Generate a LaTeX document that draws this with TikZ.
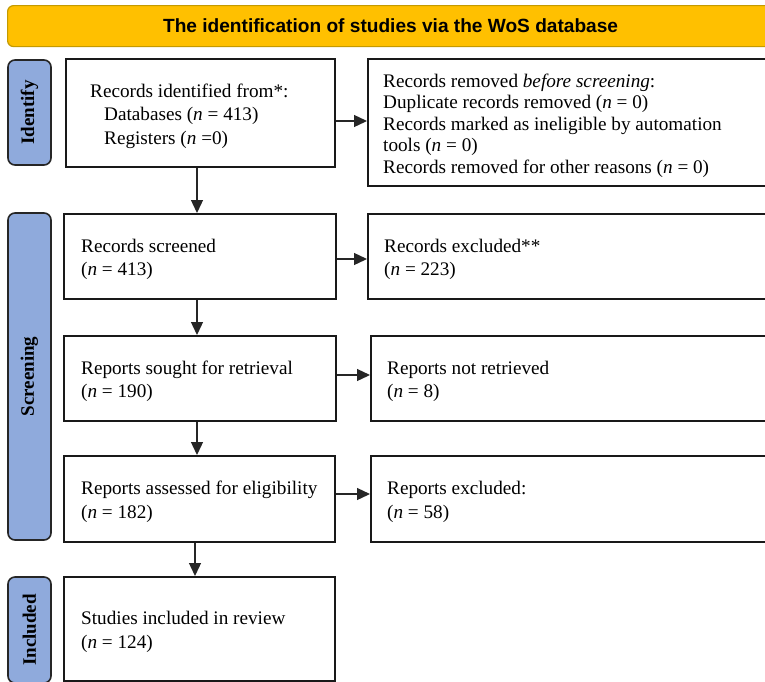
\documentclass[tikz,border=0pt]{standalone}
\usepackage{fontspec}
\setmainfont{Liberation Serif}
\setsansfont{Liberation Sans}
\usetikzlibrary{arrows.meta}
\definecolor{hdr}{HTML}{FFC000}
\definecolor{hdrline}{HTML}{C49A00}
\definecolor{sidefill}{HTML}{8FAADC}
\begin{document}
\begin{tikzpicture}[x=1pt,y=-1pt,
  box/.style={draw=black!90, line width=1.8pt, anchor=north west, inner sep=0pt},
  txt/.style={anchor=west, align=left, inner sep=0pt, yshift=-3pt,
    font=\fontsize{19.2}{23.5}\selectfont},
  sidelab/.style={draw=black!85, line width=1.6pt, fill=sidefill, rounded corners=7pt,
    rotate=90, inner sep=0pt, font=\fontsize{19}{23}\selectfont\bfseries},
  header/.style={draw=hdrline, line width=1.2pt, fill=hdr, rounded corners=6pt,
    anchor=north west, inner sep=0pt, font=\sffamily\bfseries\fontsize{19.1}{22}\selectfont},
  arr/.style={line width=1.3pt, draw=black!85, -{Triangle[length=13pt,width=12pt]}}
]
\useasboundingbox (0,0) rectangle (765,681);
\clip (0,0) rectangle (765,681);

% header
\node[header, minimum width=766, minimum height=41] (hd) at (7,5)
  {The identification of studies via the WoS database};

% side labels
\node[sidelab, minimum width=105, minimum height=43] (sid) at (29.5,112.5) {Identify};
\node[sidelab, minimum width=327, minimum height=43] (sscr) at (29.5,376.5) {Screening};
\node[sidelab, minimum width=106, minimum height=43] (sinc) at (29.5,630) {Included};

% left column boxes
\node[box, minimum width=269, minimum height=108] (b1) at (65,58) {};
\node[box, minimum width=272, minimum height=85] (b2) at (63,213) {};
\node[box, minimum width=272, minimum height=85] (b3) at (63,335) {};
\node[box, minimum width=271, minimum height=86] (b4) at (63,455) {};
\node[box, minimum width=271, minimum height=104] (b5) at (63,576) {};

% right column boxes
\node[box, minimum width=420, minimum height=127] (r1) at (367,58) {};
\node[box, minimum width=420, minimum height=85] (r2) at (367,213) {};
\node[box, minimum width=420, minimum height=85] (r3) at (370,335) {};
\node[box, minimum width=420, minimum height=86] (r4) at (370,455) {};

% texts
\node[txt] (t1) at ([xshift=25pt]b1.west)
  {Records identified from*:\\
   \hspace*{14pt}Databases (\textit{n} = 413)\\
   \hspace*{14pt}Registers (\textit{n} =0)};
\node[txt] (t2) at ([xshift=18pt]b2.west) {Records screened\\(\textit{n} = 413)};
\node[txt] (t3) at ([xshift=18pt]b3.west) {Reports sought for retrieval\\(\textit{n} = 190)};
\node[txt] (t4) at ([xshift=18pt]b4.west) {Reports assessed for eligibility\\(\textit{n} = 182)};
\node[txt] (t5) at ([xshift=18pt]b5.west) {Studies included in review\\(\textit{n} = 124)};

\node[txt, font=\fontsize{19.2}{21.5}\selectfont] (tr1) at ([xshift=16pt]r1.west)
  {Records removed \textit{before screening}:\\
   Duplicate records removed (\textit{n} = 0)\\
   Records marked as ineligible by automation\\
   tools (\textit{n} = 0)\\
   Records removed for other reasons (\textit{n} = 0)};
\node[txt] (tr2) at ([xshift=17pt]r2.west) {Records excluded**\\(\textit{n} = 223)};
\node[txt] (tr3) at ([xshift=17pt]r3.west) {Reports not retrieved\\(\textit{n} = 8)};
\node[txt] (tr4) at ([xshift=17pt]r4.west) {Reports excluded:\\(\textit{n} = 58)};

% helper coordinates
\coordinate (ax) at (197,0);
\coordinate (axb) at (195,0);
\coordinate (h1) at (0,121);
\coordinate (h2) at (0,259);
\coordinate (h3) at (0,375);
\coordinate (h4) at (0,494);

% vertical arrows
\draw[arr] (b1.south -| ax) -- (b2.north -| ax);
\draw[arr] (b2.south -| ax) -- (b3.north -| ax);
\draw[arr] (b3.south -| ax) -- (b4.north -| ax);
\draw[arr] (b4.south -| axb) -- (b5.north -| axb);

% horizontal arrows
\draw[arr] (b1.east |- h1) -- (r1.west |- h1);
\draw[arr] (b2.east |- h2) -- (r2.west |- h2);
\draw[arr] (b3.east |- h3) -- (r3.west |- h3);
\draw[arr] (b4.east |- h4) -- (r4.west |- h4);
\end{tikzpicture}
\end{document}
